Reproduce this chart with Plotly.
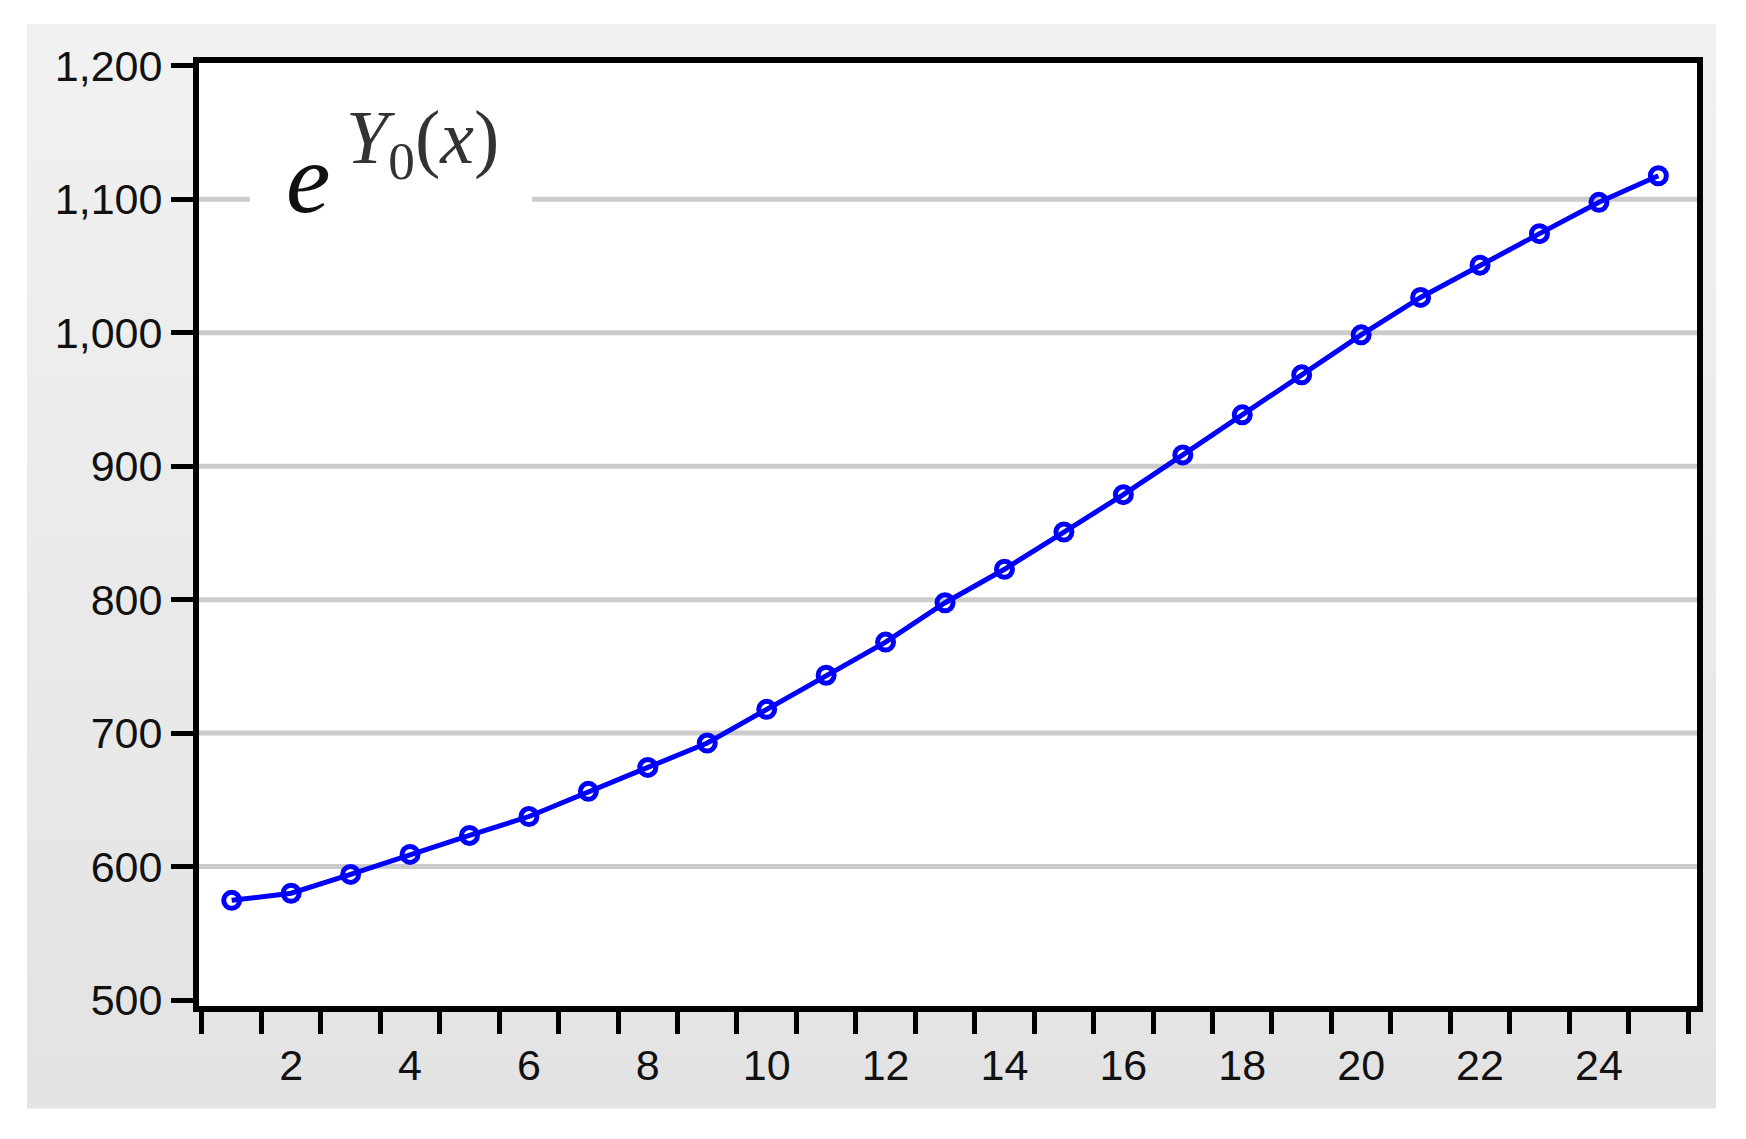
import plotly.graph_objects as go

# ── Data ───────────────────────────────────────────────────────────────────────
X_VALUES = list(range(1, 26))
Y_VALUES = [
    574.7, 580.0, 594.1, 609.1, 623.3, 637.5, 656.4, 674.3, 692.6, 717.8,
    743.4, 768.2, 797.7, 822.8, 850.7, 878.7, 908.5, 938.5, 968.5, 998.5,
    1026.5, 1050.7, 1074.3, 1097.8, 1117.7,
]
Y_TICKS = [500, 600, 700, 800, 900, 1000, 1100, 1200]
Y_GRID = [600, 700, 800, 900, 1000, 1100]
X_LABEL_TICKS = [2, 4, 6, 8, 10, 12, 14, 16, 18, 20, 22, 24]
X_MARK_TICKS = [x - 0.5 for x in X_VALUES] + [25.5]

# ── Style ──────────────────────────────────────────────────────────────────────
LINE_BLUE = "#0000ff"
GRID_COLOR = "#cccccc"
FRAME_COLOR = "#000000"
TEXT_COLOR = "#111111"
PANEL_TOP = (241, 241, 241)
PANEL_BOTTOM = (227, 227, 227)

# page body has an 8px margin, so the figure sits at (8, 8) in the window
OFF = 8
W, H = 1746 - 2 * OFF, 1139 - 2 * OFF
# plot frame in window pixels
FX0, FX1, FY0, FY1 = 199, 1697, 63, 1006
L, R, T, B = FX0 - OFF, W - (FX1 - OFF), FY0 - OFF, H - (FY1 - OFF)
PW, PH = W - L - R, H - T - B


def px_to_paper_x(px):
    return (px - FX0) / PW


def px_to_paper_y(py):
    return (FY1 - py) / PH


fig = go.Figure()
fig.add_trace(
    go.Scatter(
        x=X_VALUES,
        y=Y_VALUES,
        mode="lines+markers",
        line=dict(color=LINE_BLUE, width=5),
        marker=dict(
            symbol="circle-open",
            size=16,
            color=LINE_BLUE,
            line=dict(color=LINE_BLUE, width=5),
        ),
        showlegend=False,
    )
)

# gray panel with a soft vertical gradient (bands), then white plot area
shapes = []
n_bands = 40
top_py, bot_py = 24, 1108
for i in range(n_bands):
    t = i / (n_bands - 1)
    c = tuple(round(a + (b - a) * t) for a, b in zip(PANEL_TOP, PANEL_BOTTOM))
    y0 = top_py + (bot_py - top_py) * i / n_bands
    y1 = top_py + (bot_py - top_py) * (i + 1) / n_bands
    shapes.append(
        dict(
            type="rect", xref="paper", yref="paper", layer="below",
            x0=px_to_paper_x(27), x1=px_to_paper_x(1716),
            y0=px_to_paper_y(y1 + 0.5), y1=px_to_paper_y(y0),
            fillcolor="rgb(%d,%d,%d)" % c, line=dict(width=0),
        )
    )
shapes.append(
    dict(
        type="rect", xref="paper", yref="paper", layer="below",
        x0=0, x1=1, y0=0, y1=1, fillcolor="white", line=dict(width=0),
    )
)
# horizontal gridlines (none at the 500 / 1,200 edges)
for v in Y_GRID:
    shapes.append(
        dict(
            type="line", xref="paper", yref="y", layer="below",
            x0=0, x1=1, y0=v, y1=v, line=dict(color=GRID_COLOR, width=5),
        )
    )
# white box behind the formula, hiding the gridline
shapes.append(
    dict(
        type="rect", xref="paper", yref="y", layer="below",
        x0=px_to_paper_x(250), x1=px_to_paper_x(532), y0=1088, y1=1112,
        fillcolor="white", line=dict(width=0),
    )
)

annotations = [
    dict(
        text="<i>e</i>",
        xref="paper", yref="paper",
        x=px_to_paper_x(308), y=px_to_paper_y(178),
        xanchor="center", yanchor="middle", showarrow=False,
        font=dict(family="Liberation Serif", size=100, color="#111111"),
    ),
    dict(
        text="<i>Y</i><sub>0</sub>(<i>x</i>)",
        xref="paper", yref="paper",
        x=px_to_paper_x(422), y=px_to_paper_y(143),
        xanchor="center", yanchor="middle", showarrow=False,
        font=dict(family="Liberation Serif", size=76, color="#333333"),
    ),
]

fig.update_layout(
    width=W,
    height=H,
    margin=dict(l=L, r=R, t=T, b=B),
    paper_bgcolor="white",
    plot_bgcolor="white",
    font=dict(family="Liberation Sans", color=TEXT_COLOR, size=43),
    shapes=shapes,
    annotations=annotations,
    xaxis=dict(
        range=[0.45, 25.65],
        showgrid=False,
        zeroline=False,
        showline=True,
        mirror=True,
        linecolor=FRAME_COLOR,
        linewidth=6,
        tickmode="array",
        tickvals=X_LABEL_TICKS,
        ticks="outside",
        ticklen=16,
        tickcolor="rgba(0,0,0,0)",
        tickfont=dict(size=43, color=TEXT_COLOR),
        minor=dict(
            tickmode="array",
            tickvals=X_MARK_TICKS,
            ticks="outside",
            ticklen=22,
            tickwidth=5,
            tickcolor=FRAME_COLOR,
            showgrid=False,
        ),
    ),
    yaxis=dict(
        range=[495.5, 1202.2],
        showgrid=False,
        zeroline=False,
        showline=True,
        mirror=True,
        linecolor=FRAME_COLOR,
        linewidth=6,
        tickmode="array",
        tickvals=Y_TICKS,
        tickformat=",d",
        ticks="outside",
        ticklen=22,
        tickwidth=5,
        tickcolor=FRAME_COLOR,
        tickfont=dict(size=43, color=TEXT_COLOR),
    ),
)

fig.write_html("out.html")
